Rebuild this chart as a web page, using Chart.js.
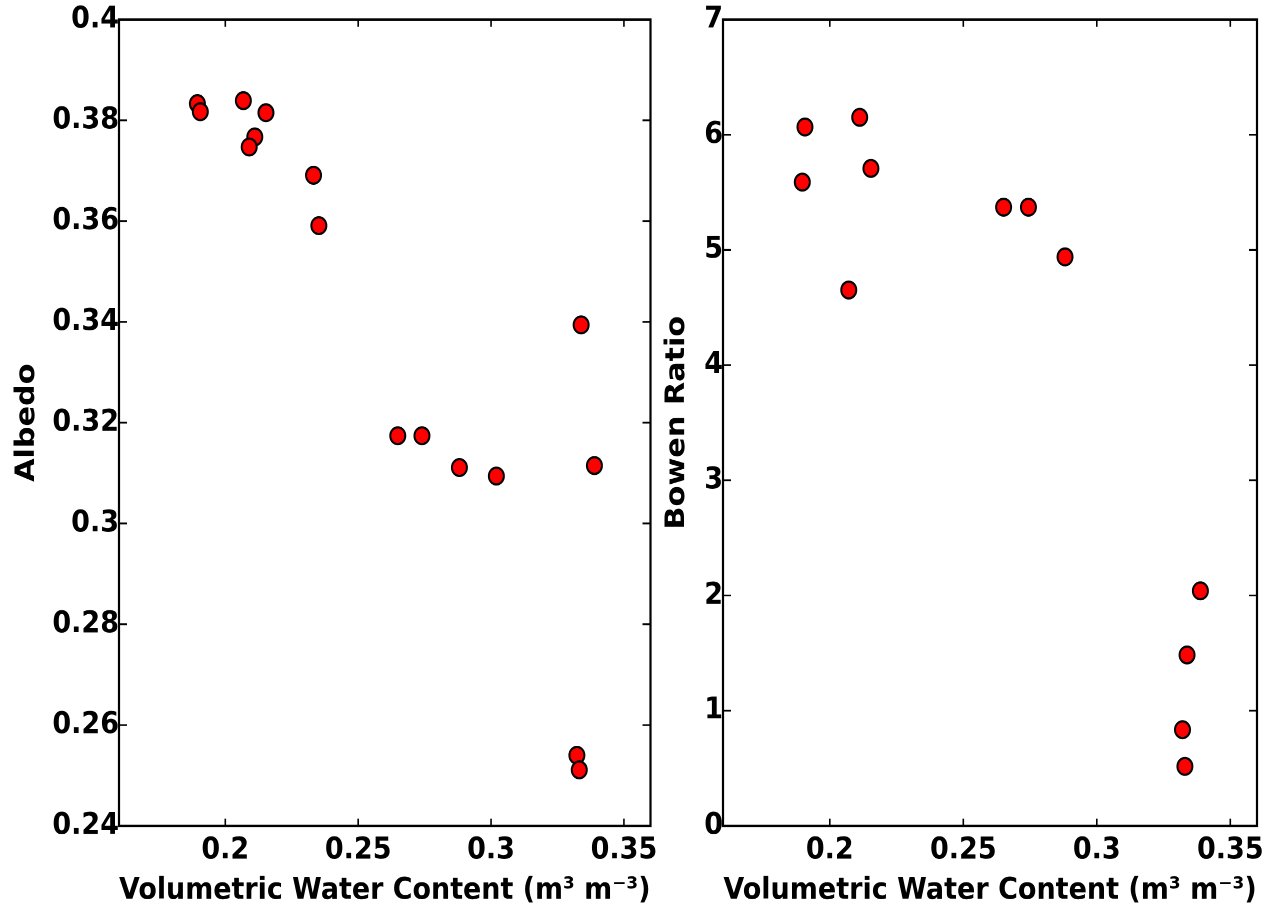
<!DOCTYPE html>
<html lang="en">
<head>
<meta charset="UTF-8">
<title>Albedo and Bowen Ratio vs Volumetric Water Content</title>
<style>
    html, body {
        margin: 0;
        padding: 0;
        background: #fff;
        overflow: hidden;
    }
    .panel {
        position: absolute;
        top: 0;
        height: 810px;
        transform: scaleY(1.1198); /* the original figure is a bit taller than it is wide */
        transform-origin: 0 0;
    }
    #left { left: 0; width: 660px; }
    #right { left: 660px; width: 608px; }
</style>
</head>
<body>
<div class="panel" id="left"><canvas id="albedoChart" width="660" height="810"></canvas></div>
<div class="panel" id="right"><canvas id="bowenChart" width="608" height="810"></canvas></div>

<script src="https://cdn.jsdelivr.net/npm/chart.js"></script>
<script>
    // left panel: albedo
    const vwcAlbedo = [0.1895, 0.1906, 0.2068, 0.2153, 0.2111, 0.2090, 0.2332, 0.2352,
                       0.3339, 0.2649, 0.2740, 0.2881, 0.3020, 0.3389, 0.3323, 0.3332];
    const albedo    = [0.3833, 0.3817, 0.3839, 0.3815, 0.3767, 0.3747, 0.3691, 0.3591,
                       0.3394, 0.3174, 0.3174, 0.3111, 0.3094, 0.3115, 0.2540, 0.2511];

    // right panel: bowen ratio
    const vwcBowen = [0.1907, 0.2112, 0.2154, 0.1897, 0.2651, 0.2744, 0.2881, 0.2071,
                      0.3388, 0.3338, 0.3321, 0.3330];
    const bowen    = [6.067, 6.151, 5.707, 5.588, 5.371, 5.371, 4.939, 4.652,
                      2.04, 1.484, 0.835, 0.516];

    // tick labels
    const vwcTicks = [0.2, 0.25, 0.3, 0.35];
    const albedoTicks = [0.24, 0.26, 0.28, 0.3, 0.32, 0.34, 0.36, 0.38, 0.4];
    const bowenTicks = [0, 1, 2, 3, 4, 5, 6, 7];

    const xTitle = 'Volumetric Water Content (m³ m⁻³)';

    Chart.defaults.font.family = "'DejaVu Sans', sans-serif";
    Chart.defaults.font.weight = 'bold';
    Chart.defaults.color = '#000';

    // matplotlib style box with inward ticks on all four sides
    const framePlugin = {
        id: 'frame',
        afterDraw(chart) {
            const ctx = chart.ctx;
            const a = chart.chartArea;
            const x = chart.scales.x, y = chart.scales.y;
            ctx.save();
            ctx.strokeStyle = '#000';
            ctx.lineWidth = 1.6;
            ctx.beginPath();
            x.ticks.forEach(t => {
                const px = x.getPixelForValue(t.value);
                ctx.moveTo(px, a.bottom); ctx.lineTo(px, a.bottom - 6.5);
                ctx.moveTo(px, a.top); ctx.lineTo(px, a.top + 6.5);
            });
            y.ticks.forEach(t => {
                const py = y.getPixelForValue(t.value);
                ctx.moveTo(a.left, py); ctx.lineTo(a.left + 8, py);
                ctx.moveTo(a.right, py); ctx.lineTo(a.right - 8, py);
            });
            ctx.stroke();
            ctx.lineWidth = 2.2;
            ctx.strokeRect(a.left, a.top, a.right - a.left, a.bottom - a.top);
            ctx.restore();
        }
    };

    function makeChart(id, xs, ys, yTicks, yTitle, yWidth, padRight, titlePad) {
        const points = xs.map((v, i) => ({x: v, y: ys[i]}));
        return new Chart(document.getElementById(id), {
            type: 'scatter',
            data: {
                datasets: [{
                    data: points,
                    backgroundColor: '#ff0000',
                    borderColor: '#000',
                    pointRadius: 7.5,
                    pointBorderWidth: 2,
                    pointHoverRadius: 7.5
                }]
            },
            options: {
                responsive: false,
                devicePixelRatio: 2,
                animation: false,
                layout: { padding: { top: 17.4, right: padRight, left: 0, bottom: 0 } },
                plugins: { legend: { display: false }, tooltip: { enabled: false } },
                scales: {
                    x: {
                        type: 'linear',
                        min: 0.16,
                        max: 0.36,
                        afterBuildTicks: s => { s.ticks = vwcTicks.map(v => ({ value: v })); },
                        afterFit: s => { s.height = 72.5; s.paddingLeft = 0; s.paddingRight = 0; },
                        grid: { display: false, drawTicks: false },
                        border: { display: false },
                        ticks: {
                            padding: 6,
                            autoSkip: false,
                            maxRotation: 0,
                            font: { size: 27, lineHeight: 1.2 },
                            callback: v => String(v)
                        },
                        title: {
                            display: true,
                            text: xTitle,
                            font: { size: 27, lineHeight: 1 },
                            padding: { top: 0, bottom: 1 }
                        }
                    },
                    y: {
                        type: 'linear',
                        min: yTicks[0],
                        max: yTicks[yTicks.length - 1],
                        afterBuildTicks: s => { s.ticks = yTicks.map(v => ({ value: v })); },
                        afterFit: s => { s.width = yWidth; s.paddingTop = 0; s.paddingBottom = 0; },
                        grid: { display: false, drawTicks: false },
                        border: { display: false },
                        ticks: {
                            padding: 0,
                            autoSkip: false,
                            font: { size: 27, lineHeight: 1.2 },
                            callback: v => String(v)
                        },
                        title: {
                            display: true,
                            text: yTitle,
                            font: { size: 27, lineHeight: 1.2 },
                            padding: { top: titlePad, bottom: 0 }
                        }
                    }
                }
            },
            plugins: [framePlugin]
        });
    }

    makeChart('albedoChart', vwcAlbedo, albedo, albedoTicks, 'Albedo', 119, 5, 11);
    makeChart('bowenChart', vwcBowen, bowen, bowenTicks, 'Bowen Ratio', 63, 11, 1);
</script>
</body>
</html>
